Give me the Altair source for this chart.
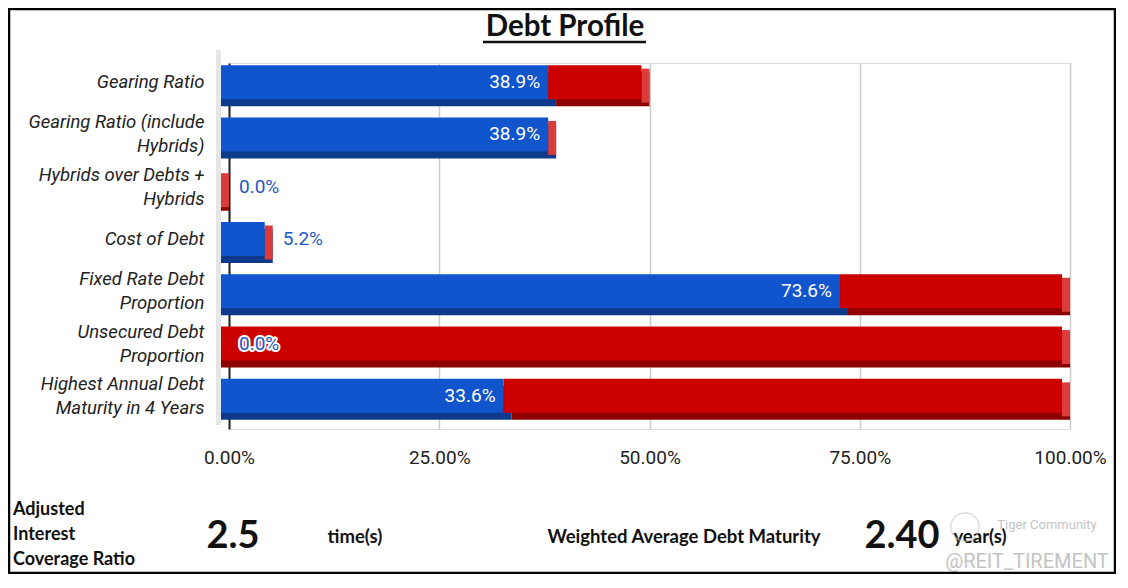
import altair as alt
import pandas as pd

# ---------------- data ----------------
categories = [
    "Gearing Ratio",
    "Gearing Ratio (include|Hybrids)",
    "Hybrids over Debts +|Hybrids",
    "Cost of Debt",
    "Fixed Rate Debt|Proportion",
    "Unsecured Debt|Proportion",
    "Highest Annual Debt|Maturity in 4 Years",
]
blue_values = [38.9, 38.9, 0.0, 5.2, 73.6, 0.0, 33.6]
red_values = [11.1, 0.0, 0.0, 0.0, 26.4, 100.0, 66.4]
x_ticks = [0, 25, 50, 75, 100]

title_text = "Debt Profile"
icr_label = ["Adjusted", "Interest", "Coverage Ratio"]
icr_value = "2.5"
icr_unit = "time(s)"
wadm_label = "Weighted Average Debt Maturity"
wadm_value = "2.40"
wadm_unit = "year(s)"
wm_top = "Tiger Community"
wm_bottom = "@REIT_TIREMENT"

df = pd.DataFrame({"cat": categories, "blue": blue_values, "red": red_values})
df["zero"] = 0.0
df["total"] = df["blue"] + df["red"]
df["lbl"] = df["blue"].map(lambda v: f"{v:.1f}%")
df["inside"] = df["blue"] >= 10

# ---------------- style ----------------
BLUE = "#1155cc"
BLUE_DARK = "#0d3a8a"
RED = "#cc0000"
RED_DARK = "#8e0000"
RED_SIDE = "#db3b3b"
LBL_BLUE = "#2257c8"
BAR = 34
DX, DY = -8, -7

x_axis = alt.Axis(
    values=x_ticks,
    labelExpr="format(datum.value, '.2f') + '%'",
    labelFont="Roboto",
    labelFontSize=19,
    labelColor="#222222",
    labelPadding=19,
    labelFlush=False,
    ticks=False,
    domain=False,
    grid=True,
    gridColor="#cccccc",
    gridWidth=1.5,
    title=None,
)
x_scale = alt.Scale(domain=[0, 100], nice=False)

y_enc = alt.Y(
    "cat:N",
    sort=categories,
    title=None,
    scale=alt.Scale(paddingInner=0, paddingOuter=0),
    axis=alt.Axis(
        labelExpr="split(datum.label, '|')",
        labelFont="Roboto",
        labelFontStyle="italic",
        labelFontSize=18.5,
        labelColor="#222222",
        labelLineHeight=24,
        labelOffset={
            "condition": {"test": "indexof(datum.value, '|') >= 0", "value": -19},
            "value": -7,
        },
        labelPadding=25,
        labelLimit=300,
        ticks=False,
        domain=True,
        domainColor="#222222",
        domainWidth=2,
        grid=False,
        zindex=0,
    ),
)


def X(field):
    return alt.X(f"{field}:Q", scale=x_scale, axis=x_axis)


base = alt.Chart(df)

back_blue = base.transform_filter("datum.blue > 0").mark_bar(
    size=BAR, color=BLUE_DARK, xOffset=DX
).encode(x=X("zero"), x2="blue", y=y_enc)
back_red_a = base.transform_filter("datum.blue > 0").mark_bar(
    size=BAR, color=RED_DARK
).encode(x=X("blue"), x2="total", y=y_enc)
back_red_b = base.transform_filter("datum.blue <= 0").mark_bar(
    size=BAR, color=RED_DARK, xOffset=DX
).encode(x=X("blue"), x2="total", y=y_enc)
side = base.mark_bar(size=BAR, color=RED_SIDE, xOffset=DX, yOffset=-3.5).encode(
    x=X("total"), x2="total", y=y_enc
)
front_blue = base.mark_bar(
    size=BAR, color=BLUE, xOffset=DX, x2Offset=DX, yOffset=DY
).encode(x=X("zero"), x2="blue", y=y_enc)
front_red = base.mark_bar(
    size=BAR, color=RED, xOffset=DX, x2Offset=DX, yOffset=DY
).encode(x=X("blue"), x2="total", y=y_enc)

lbl_in = (
    base.transform_filter("datum.inside")
    .mark_text(
        align="right", baseline="middle", dx=-16, dy=DY,
        color="white", font="Roboto", fontSize=19,
    )
    .encode(x=X("blue"), y=y_enc, text="lbl:N")
)
lbl_out_halo = (
    base.transform_filter("!datum.inside")
    .mark_text(
        align="left", baseline="middle", dx=10, dy=DY,
        color="white", stroke="white", strokeWidth=4, strokeJoin="round",
        font="Roboto", fontSize=19,
    )
    .encode(x=X("blue"), y=y_enc, text="lbl:N")
)
lbl_out = (
    base.transform_filter("!datum.inside")
    .mark_text(
        align="left", baseline="middle", dx=10, dy=DY,
        color=LBL_BLUE, font="Roboto", fontSize=19,
    )
    .encode(x=X("blue"), y=y_enc, text="lbl:N")
)

one = alt.Chart(pd.DataFrame({"k": [0]}))

wall = one.mark_rule(color="#e6e6e6", strokeWidth=5).encode(
    x=alt.value(-10.5), y=alt.value(-13), y2=alt.value(362)
)

title = one.mark_text(
    text=title_text, font="Lato", fontWeight="bold", fontSize=29.5,
    align="center", baseline="alphabetic", color="#111111",
).encode(x=alt.value(336), y=alt.value(-27))
underline = one.mark_rule(color="#111111", strokeWidth=2.5).encode(
    x=alt.value(254), x2=alt.value(417), y=alt.value(-21)
)


def note(text, x, y, size, align="center", color="#111111", weight="bold", font="Lato", lh=None):
    kw = dict(
        text=text, font=font, fontWeight=weight, fontSize=size,
        align=align, baseline="middle", color=color,
    )
    if lh is not None:
        kw["lineHeight"] = lh
    return one.mark_text(**kw).encode(x=alt.value(x), y=alt.value(y))


notes = [
    note(icr_label, -216, 447, 18, align="left", lh=25),
    note(icr_value, 4, 474, 38),
    note(icr_unit, 126, 474, 18.5),
    note(wadm_label, 455, 474, 18.5),
    note(wadm_value, 673, 474, 38),
    note(wadm_unit, 751, 474, 18.5),
    note(wm_top, 818, 462, 13, color="#c4c4c4", weight="normal", font="Roboto"),
    note(wm_bottom, 798, 499, 20, color="#c4c4c4", weight="normal", font="Roboto"),
]
logo = one.mark_point(shape="circle", filled=False, size=800, color="#c8c8c8", strokeWidth=1.2).encode(
    x=alt.value(736), y=alt.value(464)
)

border = one.mark_rect(fillOpacity=0, stroke="#000000", strokeWidth=2.5).encode(
    x=alt.value(-220), x2=alt.value(886), y=alt.value(-54), y2=alt.value(510)
)

chart = alt.layer(
    wall, back_blue, back_red_a, back_red_b, side, front_blue, front_red,
    lbl_in, lbl_out_halo, lbl_out, title, underline, *notes, logo, border,
).properties(
    width=841,
    height=366,
    autosize="none",
    padding={"left": 221, "right": 46, "top": 55, "bottom": 145},
).configure_view(stroke=None).configure(background="white")

chart.save("out.html", embed_options={"renderer": "svg", "actions": False})
